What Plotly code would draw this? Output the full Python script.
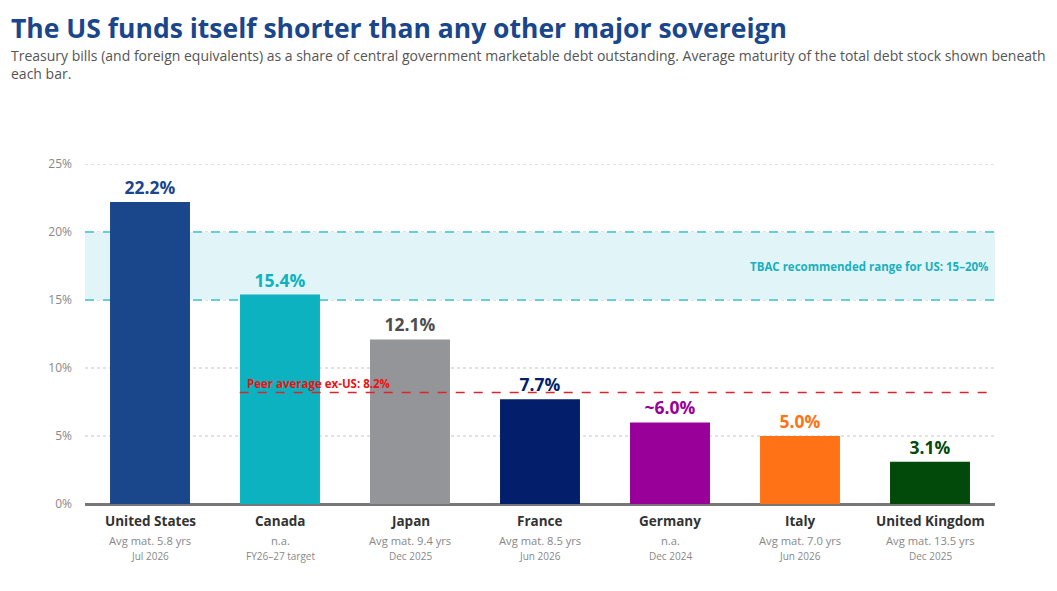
import plotly.graph_objects as go

countries = ["United States", "Canada", "Japan", "France", "Germany", "Italy", "United Kingdom"]
bill_share = [22.2, 15.4, 12.1, 7.7, 6.0, 5.0, 3.1]
value_labels = ["22.2%", "15.4%", "12.1%", "7.7%", "~6.0%", "5.0%", "3.1%"]
avg_maturity = ["Avg mat. 5.8 yrs", "n.a.", "Avg mat. 9.4 yrs", "Avg mat. 8.5 yrs",
                "n.a.", "Avg mat. 7.0 yrs", "Avg mat. 13.5 yrs"]
as_of = ["Jul 2026", "FY26\u201327 target", "Dec 2025", "Jun 2026", "Dec 2024", "Jun 2026", "Dec 2025"]
bar_colors = ["#1a468c", "#0cb2c0", "#939598", "#031f6b", "#990099", "#ff7316", "#024a0a"]
label_colors = ["#1a468c", "#0cb2c0", "#4d4d4f", "#031f6b", "#990099", "#ff7316", "#024a0a"]
tbac_range = [15, 20]
peer_avg = 8.2
y_ticks = [0, 5, 10, 15, 20, 25]

FONT = "Open Sans"
L, R, T, B = 77, 70, 156, 95
PLOT_W, PLOT_H = 1057 - L - R, 591 - T - B

fig = go.Figure(go.Bar(
    x=countries, y=bill_share,
    marker=dict(color=bar_colors, line=dict(width=0)),
    text=["<b>%s</b>" % t for t in value_labels],
    textposition="outside",
    textfont=dict(family=FONT, size=17.5, color=label_colors),
    cliponaxis=False,
    hoverinfo="skip",
))

# dotted gridlines drawn as shapes so the band sits over them
for v in y_ticks[1:]:
    fig.add_shape(type="line", xref="paper", x0=0, x1=1, y0=v, y1=v,
                  line=dict(color="#d9d9d9", width=1.5, dash="dot"), layer="below")

# TBAC band
fig.add_shape(type="rect", xref="paper", x0=0, x1=1, y0=tbac_range[0], y1=tbac_range[1],
              fillcolor="#e1f5f8", line=dict(width=0), layer="below")
for v in tbac_range:
    fig.add_shape(type="line", xref="paper", x0=0, x1=1, y0=v, y1=v,
                  line=dict(color="#3cc4cc", width=1.5, dash="dash"), layer="below")
fig.add_annotation(xref="paper", x=(982 - 8 - L) / PLOT_W + 0.009, y=sum(tbac_range) / 2, xanchor="right",
                   text="<b>TBAC recommended range for US: 15\u201320%</b>", showarrow=False,
                   font=dict(family=FONT, size=11.5, color="#1ab0bd"))

# peer average line (ex-US, starting at Canada's bar edge)
fig.add_shape(type="line", x0=1 - 0.31, x1=6.5, y0=peer_avg, y1=peer_avg,
              line=dict(color="#d9262e", width=1.5, dash="dash"))
fig.add_annotation(x=1 - 0.31, y=peer_avg, xanchor="left", yanchor="bottom", xshift=5, yshift=-1,
                   text="<b>Peer average ex-US: 8.2%</b>", showarrow=False,
                   font=dict(family=FONT, size=11.5, color="#ee1111"))

# category labels under the bars
for c, m, d in zip(countries, avg_maturity, as_of):
    fig.add_annotation(x=c, y=0, yanchor="top", yshift=-6, showarrow=False,
                       text="<b>%s</b>" % c, font=dict(family=FONT, size=13.5, color="#333333"))
    fig.add_annotation(x=c, y=0, yanchor="top", yshift=-27, showarrow=False,
                       text=m, font=dict(family=FONT, size=11.2, color="#888888"))
    fig.add_annotation(x=c, y=0, yanchor="top", yshift=-43, showarrow=False,
                       text=d, font=dict(family=FONT, size=10, color="#888888"))

# title and subtitle
fig.add_annotation(xref="paper", yref="paper", x=-(L - 1) / PLOT_W, y=(PLOT_H + T) / PLOT_H,
                   xanchor="left", yanchor="top", showarrow=False, align="left",
                   text="<b>The US funds itself shorter than any other major sovereign</b>",
                   font=dict(family=FONT, size=26.5, color="#1a468c"))
fig.add_annotation(xref="paper", yref="paper", x=-(L - 1) / PLOT_W, y=(PLOT_H + T - 36) / PLOT_H,
                   xanchor="left", yanchor="top", showarrow=False, align="left",
                   text="Treasury bills (and foreign equivalents) as a share of central government marketable "
                        "debt outstanding. Average maturity of the total debt stock shown beneath<br>each bar.",
                   font=dict(family=FONT, size=14, color="#555555"))

fig.update_layout(
    width=1057, height=591,
    margin=dict(l=L, r=R, t=T, b=B),
    paper_bgcolor="white", plot_bgcolor="white",
    bargap=0.385,
    showlegend=False,
    font=dict(family=FONT),
    xaxis=dict(showticklabels=False, showgrid=False, ticks="", range=[-0.5, 6.5]),
    yaxis=dict(range=[0, 25], tickvals=y_ticks, ticktext=["%d%%" % v for v in y_ticks],
               showgrid=False,
               zeroline=True, zerolinecolor="#777777", zerolinewidth=3,
               tickfont=dict(family=FONT, size=12, color="#888888"), ticks="", ticklabelstandoff=12),
)

fig.write_html("out.html")
